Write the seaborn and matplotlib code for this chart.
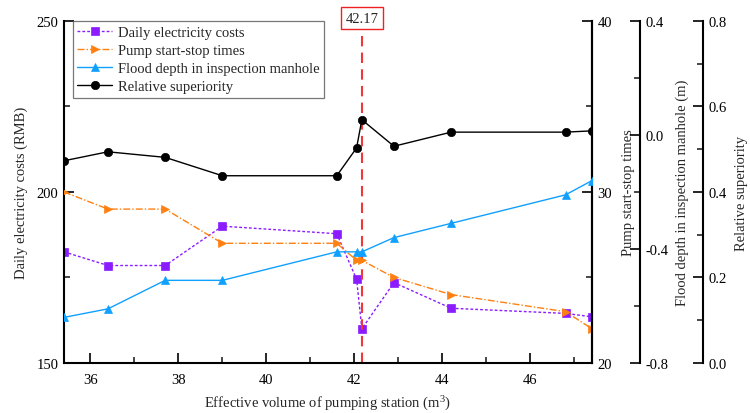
"""
Effective volume of pumping station vs. cost / pump cycles / flood depth /
relative superiority, four y axes sharing one x axis.
"""

import matplotlib
matplotlib.use("Agg")
import matplotlib.pyplot as plt
from matplotlib.ticker import MultipleLocator
import seaborn as sns

# --------------------------------------------------
# Data
# --------------------------------------------------
volume = [35.4, 36.4, 37.7, 39.0, 41.6, 42.05, 42.17, 42.9, 44.2, 46.8, 47.4]
daily_costs = [182.5, 178.5, 178.5, 190.0, 187.8, 174.5, 160.0, 173.5, 166.0, 164.5, 163.5]
pump_times = [30, 29, 29, 27, 27, 26, 26, 25, 24, 23, 22]
flood_depth = [-0.64, -0.61, -0.51, -0.51, -0.41, -0.41, -0.41, -0.36, -0.31, -0.21, -0.16]
superiority = [0.473, 0.494, 0.481, 0.438, 0.438, 0.503, 0.569, 0.507, 0.540, 0.540, 0.543]
optimum = 42.17

sns.set_theme(style="ticks")
plt.rcParams["font.family"] = ["Liberation Serif", "DejaVu Serif"]
plt.rcParams["mathtext.default"] = "regular"
FS = 10.5

fig = plt.figure(figsize=(7.5, 4.14), dpi=100)
ax = fig.add_axes([0.0853, 0.1208, 0.7040, 0.8261])
ax2 = ax.twinx()
ax3 = ax.twinx()
ax4 = ax.twinx()
ax3.spines["right"].set_position(("axes", 1.091))
ax4.spines["right"].set_position(("axes", 1.210))

line_kw = dict(linewidth=1.0, markersize=6, markeredgewidth=0.5)

sns.lineplot(x=volume, y=daily_costs, ax=ax, color="#8a1cff", marker="s",
             linestyle=(0, (2, 1.5)), markeredgecolor="#8a1cff",
             label="Daily electricity costs", legend=False, **line_kw)
sns.lineplot(x=volume, y=pump_times, ax=ax2, color="#ff8010", marker=">",
             linestyle=(0, (5, 1.5, 1, 1.5)), markeredgecolor="#ff8010",
             label="Pump start-stop times", legend=False, **line_kw)
sns.lineplot(x=volume, y=flood_depth, ax=ax3, color="#10a0ff", marker="^",
             linestyle="-", markeredgecolor="#10a0ff",
             label="Flood depth in inspection manhole", legend=False, **line_kw)
sns.lineplot(x=volume, y=superiority, ax=ax4, color="black", marker="o",
             linestyle="-", markeredgecolor="black",
             label="Relative superiority", legend=False, **line_kw)

# optimum marker line and label
ax.axvline(optimum, ymax=0.956, color="#f03838", linestyle=(0, (5, 3)), linewidth=1.5)
ax.text(optimum, 1.008, f"{optimum:.2f}", transform=ax.get_xaxis_transform(),
        ha="center", va="center", fontsize=FS,
        bbox=dict(boxstyle="square,pad=0.3", fc="white", ec="#ee2222", lw=1.0))

# axes ranges and ticks
ax.set_xlim(35.4, 47.4)
ax.set_ylim(150, 250)
ax2.set_ylim(20, 40)
ax3.set_ylim(-0.8, 0.4)
ax4.set_ylim(0.0, 0.8)

ax.xaxis.set_major_locator(MultipleLocator(2))
ax.xaxis.set_minor_locator(MultipleLocator(1))
ax.yaxis.set_major_locator(MultipleLocator(50))
ax.yaxis.set_minor_locator(MultipleLocator(25))
ax2.yaxis.set_major_locator(MultipleLocator(10))
ax2.yaxis.set_minor_locator(MultipleLocator(5))
ax3.yaxis.set_major_locator(MultipleLocator(0.4))
ax3.yaxis.set_minor_locator(MultipleLocator(0.2))
ax4.yaxis.set_major_locator(MultipleLocator(0.2))
ax4.yaxis.set_minor_locator(MultipleLocator(0.1))
ax3.yaxis.set_major_formatter(lambda v, p: f"{v:.1f}")
ax4.yaxis.set_major_formatter(lambda v, p: f"{v:.1f}")

ax.spines["top"].set_visible(False)
for a in (ax2, ax3, ax4):
    for s in ("top", "left", "bottom"):
        a.spines[s].set_visible(False)
for a in (ax, ax2, ax3, ax4):
    for s in a.spines.values():
        s.set_linewidth(1.5)
        s.set_color("black")
    a.tick_params(which="major", direction="in", length=7, width=1.2,
                  labelsize=FS, colors="black", pad=4)
    a.tick_params(which="minor", direction="in", length=4, width=1.2)
ax.tick_params(axis="x", which="both", top=False)
ax.tick_params(axis="x", which="major", pad=7)

ax.set_xlabel("Effective volume of pumping station (m$^{3}$)", fontsize=FS, labelpad=6)
ax.set_ylabel("Daily electricity costs (RMB)", fontsize=FS, labelpad=6)
ax2.set_ylabel("Pump start-stop times", fontsize=FS, labelpad=7)
ax3.set_ylabel("Flood depth in inspection manhole (m)", fontsize=FS, labelpad=5)
ax4.set_ylabel("Relative superiority", fontsize=FS, labelpad=6)

handles = [a.get_lines()[0] for a in (ax, ax2, ax3, ax4)]
labels = [h.get_label() for h in handles]
leg = ax.legend(handles, labels, loc="upper left", bbox_to_anchor=(0.0165, 1.0),
                borderaxespad=0, fontsize=FS, frameon=True, fancybox=False,
                handlelength=2.4, handletextpad=0.35, labelspacing=0.33,
                borderpad=0.33)
leg.get_frame().set_edgecolor("#555555")
leg.get_frame().set_linewidth(0.9)
leg.set_zorder(10)

fig.savefig("out.png", dpi=100)
